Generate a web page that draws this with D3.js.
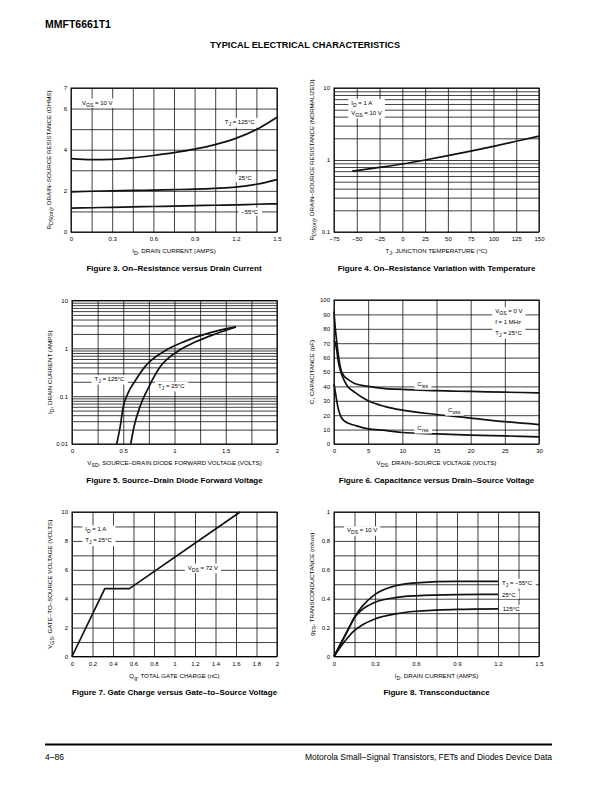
<!DOCTYPE html>
<html>
<head>
<meta charset="utf-8">
<script src="https://cdn.jsdelivr.net/npm/d3@7"></script>
<style>
  body { margin: 0; background: #fff; }
  svg { font-family: "Liberation Sans", Arial, Helvetica, sans-serif; }
</style>
</head>
<body>
<svg id="page" width="612" height="792"></svg>
<script>
// Figure 3 : on-resistance vs drain current
var fig3Current = [0, 0.15, 0.3, 0.45, 0.6, 0.75, 0.9, 1.05, 1.2, 1.35, 1.5];
var fig3R125 = [3.57, 3.52, 3.53, 3.6, 3.72, 3.86, 4.03, 4.25, 4.55, 4.98, 5.58];
var fig3R25 = [1.95, 1.98, 2.0, 2.02, 2.04, 2.06, 2.08, 2.12, 2.18, 2.32, 2.55];
var fig3Rm55 = [1.16, 1.18, 1.2, 1.22, 1.24, 1.26, 1.28, 1.3, 1.32, 1.35, 1.37];
var fig3XTicks = [0, 0.3, 0.6, 0.9, 1.2, 1.5];
var fig3YTicks = [0, 2, 4, 6, 7];

// Figure 4 : normalized on-resistance vs temperature
var fig4Temp = [-55, -25, 0, 25, 50, 75, 100, 125, 150];
var fig4Rnorm = [0.7, 0.79, 0.88, 1.0, 1.15, 1.33, 1.55, 1.82, 2.15];
var fig4XTicks = [-75, -50, -25, 0, 25, 50, 75, 100, 125, 150];
var fig4YTicks = [0.1, 1, 10];

// Figure 5 : source-drain diode forward voltage
var fig5V125 = [0.436, 0.47, 0.5, 0.55, 0.615, 0.71, 0.92, 1.1, 1.35, 1.6];
var fig5I125 = [0.01, 0.023, 0.06, 0.12, 0.207, 0.41, 0.92, 1.4, 2.13, 2.8];
var fig5V25 = [0.573, 0.605, 0.663, 0.754, 0.86, 1.05, 1.2, 1.4, 1.6];
var fig5I25 = [0.01, 0.023, 0.06, 0.163, 0.41, 0.92, 1.35, 2.0, 2.8];
var fig5XTicks = [0, 0.5, 1, 1.5, 2];
var fig5YTicks = [0.01, 0.1, 1, 10];

// Figure 6 : capacitance vs drain-source voltage
var fig6Vds = [0, 0.2, 0.4, 0.6, 1, 1.5, 2, 3, 5, 7.5, 10, 15, 20, 25, 30];
var fig6Ciss = [92, 80, 71, 63, 52, 47, 45, 42, 40, 38.5, 38, 37, 36.5, 36, 35.5];
var fig6Coss = [72, 70, 65, 58, 50, 44, 40, 36, 30, 26, 23.5, 20.5, 18, 15.5, 13.5];
var fig6Crss = [42, 36, 30, 25, 19, 16, 14.5, 13, 10.5, 9.5, 8, 7, 6.2, 5.6, 5];
var fig6XTicks = [0, 5, 10, 15, 20, 25, 30];
var fig6YTicks = [0, 10, 20, 30, 40, 50, 60, 70, 80, 90, 100];

// Figure 7 : gate charge
var fig7Qg = [0, 0.32, 0.56, 1.64];
var fig7Vgs = [0, 4.7, 4.7, 10];
var fig7XTicks = [0, 0.2, 0.4, 0.6, 0.8, 1, 1.2, 1.4, 1.6, 1.8, 2];
var fig7YTicks = [0, 2, 4, 6, 8, 10];

// Figure 8 : transconductance
var fig8Current = [0, 0.05, 0.1, 0.15, 0.2, 0.3, 0.45, 0.6, 0.9, 1.2];
var fig8Gm55 = [0, 0.09, 0.18, 0.27, 0.34, 0.43, 0.49, 0.51, 0.52, 0.52];
var fig8G25 = [0, 0.09, 0.18, 0.27, 0.32, 0.375, 0.408, 0.42, 0.428, 0.43];
var fig8G125 = [0, 0.07, 0.13, 0.18, 0.215, 0.26, 0.295, 0.313, 0.326, 0.33];
var fig8XTicks = [0, 0.3, 0.6, 0.9, 1.2, 1.5];
var fig8YTicks = [0, 0.2, 0.4, 0.6, 0.8, 1];

var svg = d3.select("#page");

function zip(xs, ys) {
	return xs.map(function(v, i) { return [v, ys[i]]; });
}

// "V_{GS} = 10 V" -> text with subscripts
function richText(sel, str) {
	var bits = str.split(/_\{([^}]*)\}/);
	bits.forEach(function(b, i) {
		if (b === "") return;
		var ts = sel.append("tspan").text(b);
		if (i % 2 == 1) ts.attr("baseline-shift", "-1.6").attr("font-size", "85%");
	});
}

function logGrid(lo, hi) {
	var out = [];
	for (var d = lo; d < hi; d *= 10) {
		for (var k = 1; k <= 9; k++) out.push(d * k);
	}
	out.push(hi);
	return out;
}

function panel(o) {
	var g = svg.append("g").attr("transform", "translate(" + o.x + "," + o.y + ")");
	var w = o.w, h = o.h;
	var x = d3.scaleLinear().domain(o.xDomain).range([0, w]);
	var y = (o.log ? d3.scaleLog() : d3.scaleLinear()).domain(o.yDomain).range([h, 0]);

	//グリッド
	var gx = g.append("g").attr("transform", "translate(0," + h + ")")
		.call(d3.axisBottom(x).tickValues(o.xGrid).tickSize(-h).tickFormat(""));
	var gy = g.append("g")
		.call(d3.axisLeft(y).tickValues(o.yGrid).tickSize(-w).tickFormat(""));
	[gx, gy].forEach(function(a) {
		a.select(".domain").remove();
		a.selectAll("line").attr("stroke", "#000").attr("stroke-width", 0.75);
	});

	//目盛りラベル
	var ax = g.append("g").attr("transform", "translate(0," + h + ")")
		.call(d3.axisBottom(x).tickValues(o.xTicks).tickSize(0).tickPadding(5)
			.tickFormat(function(d) { return String(d).replace("-", "\u2212"); }));
	var ay = g.append("g")
		.call(d3.axisLeft(y).tickValues(o.yTicks).tickSize(0).tickPadding(4)
			.tickFormat(function(d) { return String(d); }));
	[ax, ay].forEach(function(a) {
		a.select(".domain").remove();
		a.selectAll("text").attr("font-size", 6).attr("font-family", null).attr("fill", "#000");
	});

	g.append("rect").attr("width", w).attr("height", h)
		.attr("fill", "none").attr("stroke", "#000").attr("stroke-width", 1);

	//曲線
	o.series.forEach(function(s) {
		var line = d3.line()
			.x(function(d) { return x(d[0]); })
			.y(function(d) { return y(d[1]); })
			.curve(s.straight ? d3.curveLinear : d3.curveMonotoneX);
		g.append("path").datum(s.data).attr("d", line)
			.attr("fill", "none").attr("stroke", "#111").attr("stroke-width", 1.7)
			.attr("stroke-linejoin", "round");
	});

	//注記
	(o.notes || []).forEach(function(n) {
		var ng = g.append("g");
		var lh = n.lh || 11;
		var bg = ng.append("rect").attr("fill", "#fff");
		n.lines.forEach(function(l, i) {
			var t = ng.append("text")
				.attr("x", x(n.x)).attr("y", y(n.y) + i * lh)
				.attr("dy", "0.35em").attr("font-size", 6)
				.attr("text-anchor", n.anchor || "start");
			richText(t, l);
		});
		var bb = ng.node().getBBox();
		bg.attr("x", bb.x - 3).attr("y", bb.y - 1).attr("width", bb.width + 6).attr("height", bb.height + 2);
	});

	//軸ラベル
	var xl = g.append("text").attr("x", w / 2).attr("y", h + 21)
		.attr("text-anchor", "middle").attr("font-size", 6.2);
	richText(xl, o.xLabel);
	var yl = g.append("text")
		.attr("transform", "translate(" + (-20) + "," + (h / 2) + ") rotate(-90)")
		.attr("text-anchor", "middle").attr("font-size", 6.2);
	richText(yl, o.yLabel);

	g.append("text").attr("x", w / 2).attr("y", h + 38.5)
		.attr("text-anchor", "middle").attr("font-size", 8).attr("font-weight", "bold")
		.text(o.caption);
}

// header
svg.append("text").attr("x", 45).attr("y", 28).attr("font-size", 10.5)
	.attr("font-weight", 900).text("MMFT6661T1");
svg.append("text").attr("x", 305).attr("y", 47.5).attr("font-size", 9.2)
	.attr("font-weight", "bold").attr("text-anchor", "middle")
	.text("TYPICAL ELECTRICAL CHARACTERISTICS");

panel({
	x: 71, y: 88, w: 206, h: 144,
	xDomain: [0, 1.5], yDomain: [0, 7],
	xGrid: d3.range(0, 11).map(function(i) { return i * 0.15; }),
	yGrid: d3.range(0, 8),
	xTicks: fig3XTicks, yTicks: fig3YTicks,
	series: [
		{ data: zip(fig3Current, fig3R125) },
		{ data: zip(fig3Current, fig3R25) },
		{ data: zip(fig3Current, fig3Rm55) }
	],
	notes: [
		{ x: 0.08, y: 6.3, lines: ["V_{GS} = 10 V"] },
		{ x: 1.12, y: 5.35, lines: ["T_{J} = 125°C"] },
		{ x: 1.22, y: 2.62, lines: ["25°C"] },
		{ x: 1.24, y: 0.99, lines: ["\u221255°C"] }
	],
	xLabel: "I_{D}, DRAIN CURRENT (AMPS)",
	yLabel: "R_{DS(on)}, DRAIN\u2013SOURCE RESISTANCE (OHMS)",
	caption: "Figure 3. On\u2013Resistance versus Drain Current"
});

panel({
	x: 334, y: 88, w: 205, h: 144, log: true,
	xDomain: [-75, 150], yDomain: [0.1, 10],
	xGrid: fig4XTicks, yGrid: logGrid(0.1, 10),
	xTicks: fig4XTicks, yTicks: fig4YTicks,
	series: [{ data: zip(fig4Temp, fig4Rnorm) }],
	notes: [
		{ x: -56, y: 6.2, lh: 10, lines: ["I_{D} = 1 A", "V_{GS} = 10 V"] }
	],
	xLabel: "T_{J}, JUNCTION TEMPERATURE (°C)",
	yLabel: "R_{DS(on)}, DRAIN\u2013SOURCE RESISTANCE (NORMALIZED)",
	caption: "Figure 4. On\u2013Resistance Variation with Temperature"
});

panel({
	x: 72, y: 300.5, w: 205, h: 143.5, log: true,
	xDomain: [0, 2], yDomain: [0.01, 10],
	xGrid: d3.range(0, 9).map(function(i) { return i * 0.25; }),
	yGrid: logGrid(0.01, 10),
	xTicks: fig5XTicks, yTicks: fig5YTicks,
	series: [
		{ data: zip(fig5V125, fig5I125) },
		{ data: zip(fig5V25, fig5I25) }
	],
	notes: [
		{ x: 0.22, y: 0.23, lines: ["T_{J} = 125°C"] },
		{ x: 0.84, y: 0.165, lines: ["T_{J} = 25°C"] }
	],
	xLabel: "V_{SD}, SOURCE\u2013DRAIN DIODE FORWARD VOLTAGE (VOLTS)",
	yLabel: "I_{D}, DRAIN CURRENT (AMPS)",
	caption: "Figure 5. Source\u2013Drain Diode Forward Voltage"
});

panel({
	x: 334, y: 300, w: 205, h: 144,
	xDomain: [0, 30], yDomain: [0, 100],
	xGrid: fig6XTicks, yGrid: fig6YTicks,
	xTicks: fig6XTicks, yTicks: fig6YTicks,
	series: [
		{ data: zip(fig6Vds, fig6Ciss) },
		{ data: zip(fig6Vds, fig6Coss) },
		{ data: zip(fig6Vds, fig6Crss) }
	],
	notes: [
		{ x: 23.6, y: 92.4, lines: ["V_{GS} = 0 V", "f = 1 MHz", "T_{J} = 25°C"] },
		{ x: 12.2, y: 41.7, lines: ["C_{iss}"] },
		{ x: 16.7, y: 23.6, lines: ["C_{oss}"] },
		{ x: 12.2, y: 11.2, lines: ["C_{rss}"] }
	],
	xLabel: "V_{DS}, DRAIN\u2013SOURCE VOLTAGE (VOLTS)",
	yLabel: "C, CAPACITANCE (pF)",
	caption: "Figure 6. Capacitance versus Drain\u2013Source Voltage"
});

panel({
	x: 72, y: 512, w: 205, h: 144.5,
	xDomain: [0, 2], yDomain: [0, 10],
	xGrid: fig7XTicks, yGrid: d3.range(0, 11),
	xTicks: fig7XTicks, yTicks: fig7YTicks,
	series: [{ data: zip(fig7Qg, fig7Vgs), straight: true }],
	notes: [
		{ x: 0.13, y: 8.8, lines: ["I_{D} = 1 A", "T_{J} = 25°C"] },
		{ x: 1.13, y: 6.16, lines: ["V_{DS} = 72 V"] }
	],
	xLabel: "Q_{g}, TOTAL GATE CHARGE (nC)",
	yLabel: "V_{GS}, GATE\u2013TO\u2013SOURCE VOLTAGE (VOLTS)",
	caption: "Figure 7. Gate Charge versus Gate\u2013to\u2013Source Voltage"
});

panel({
	x: 334, y: 512, w: 205, h: 144.5,
	xDomain: [0, 1.5], yDomain: [0, 1],
	xGrid: d3.range(0, 11).map(function(i) { return i * 0.15; }),
	yGrid: d3.range(0, 11).map(function(i) { return i / 10; }),
	xTicks: fig8XTicks, yTicks: fig8YTicks,
	series: [
		{ data: zip(fig8Current, fig8Gm55) },
		{ data: zip(fig8Current, fig8G25) },
		{ data: zip(fig8Current, fig8G125) }
	],
	notes: [
		{ x: 0.095, y: 0.875, lines: ["V_{DS} = 10 V"] },
		{ x: 1.23, y: 0.51, lines: ["T_{J} = \u221255°C"] },
		{ x: 1.23, y: 0.427, lines: ["25°C"] },
		{ x: 1.235, y: 0.33, lines: ["125°C"] }
	],
	xLabel: "I_{D}, DRAIN CURRENT (AMPS)",
	yLabel: "g_{FS}, TRANSCONDUCTANCE (mhos)",
	caption: "Figure 8. Transconductance"
});

// footer
svg.append("line").attr("x1", 45).attr("x2", 552).attr("y1", 744.5).attr("y2", 744.5)
	.attr("stroke", "#000").attr("stroke-width", 2);
svg.append("text").attr("x", 45).attr("y", 760).attr("font-size", 8.5).text("4\u201386");
svg.append("text").attr("x", 552).attr("y", 760).attr("font-size", 8.5)
	.attr("text-anchor", "end")
	.text("Motorola Small\u2013Signal Transistors, FETs and Diodes Device Data");
</script>
</body>
</html>
